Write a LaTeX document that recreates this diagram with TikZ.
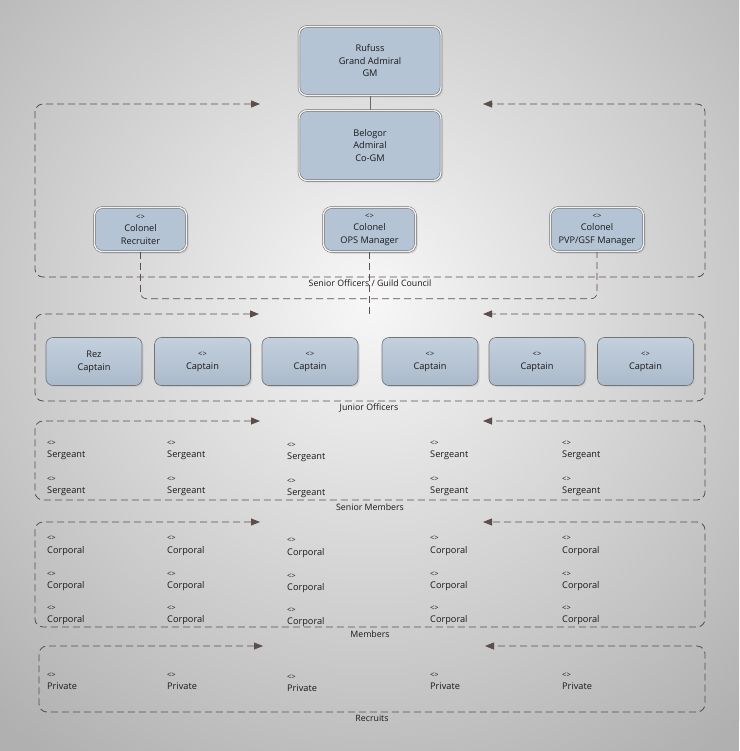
\documentclass[tikz,border=0pt]{standalone}
\usepackage{xcolor}
\usepackage{fontspec}
\setmainfont{Open Sans}
\usetikzlibrary{arrows.meta,shadows}
\definecolor{boxblue}{RGB}{180,196,213}
\definecolor{loopbrown}{RGB}{92,78,74}
\newcommand{\tagmark}{{\fontsize{7.5}{8}\selectfont <>}}

\begin{document}
\begin{tikzpicture}[x=1pt, y=-1pt,
    officer/.style={draw=black!60, double=black!6, double distance=1.4pt, line width=0.5pt,
      rounded corners=8pt, fill=boxblue, align=center, text=black!90,
      font=\fontsize{9.2}{12.5}\selectfont,
      drop shadow={shadow xshift=2pt, shadow yshift=-2pt, fill=black!30, opacity=0.5}},
    captain/.style={draw=black!55, line width=0.6pt, rounded corners=7pt,
      top color=boxblue!80!white, bottom color=boxblue!95!black,
      minimum width=96pt, minimum height=48pt, align=center, text=black!90,
      font=\fontsize{9.2}{13}\selectfont,
      drop shadow={shadow xshift=1.5pt, shadow yshift=-1.5pt, fill=black!25, opacity=0.5}},
    rank/.style={anchor=west, inner sep=0pt, align=left, text=black!90,
      font=\fontsize{9.2}{12.5}\selectfont},
    grouplabel/.style={inner sep=0pt, text=black!90, font=\fontsize{8.8}{10}\selectfont},
    grouploop/.style={loopbrown, line width=0.8pt, dash pattern=on 7pt off 4pt,
      rounded corners=8pt, >={Triangle[length=9pt, width=7pt]}, <->},
    bus/.style={loopbrown, line width=0.6pt, dash pattern=on 7pt off 4pt, rounded corners=6pt}]

  % Background
  \begin{scope}
    \clip (0,0) rectangle (739,751);
    \fill[black!31] (0,0) rectangle (739,751);
    \shade[inner color=white!97!black, outer color=black!31] (370,300) circle (560pt);
  \end{scope}
  \useasboundingbox (0,0) rectangle (739,751);

  % Group frames
  \draw[grouploop] (260,104) -- (35,104) -- (35,277) -- (705,277) -- (705,104) -- (483,104);
  \draw[grouploop] (259,314) -- (35,314) -- (35,401) -- (705,401) -- (705,314) -- (483,314);
  \draw[grouploop] (260,421) -- (35,421) -- (35,500) -- (705,500) -- (705,421) -- (483,421);
  \draw[grouploop] (260,522) -- (35,522) -- (35,627) -- (705,627) -- (705,522) -- (483,522);
  \draw[grouploop] (263,646) -- (39,646) -- (39,712) -- (705,712) -- (705,646) -- (485,646);

  % Group labels
  \node[grouplabel] (council-label) at (370,283) {Senior Officers / Guild Council};
  \node[grouplabel] (junior-label) at (369,408) {Junior Officers};
  \node[grouplabel] (senior-label) at (370,507) {Senior Members};
  \node[grouplabel] (members-label) at (370,634) {Members};
  \node[grouplabel] (recruits-label) at (372,718) {Recruits};

  % Guild masters
  \node[officer, minimum width=142pt, minimum height=69pt] (rufuss) at (370,61) {Rufuss\\Grand Admiral\\GM};
  \node[officer, minimum width=142pt, minimum height=70pt] (belogor) at (370,145.5) {Belogor\\Admiral\\Co-GM};
  \draw[black!60, line width=0.6pt] (rufuss) -- (belogor);

  % Colonels
  \node[officer, minimum width=92pt, minimum height=44pt] (recruiter) at (140.5,229.5) {\tagmark\\Colonel\\Recruiter};
  \node[officer, minimum width=92pt, minimum height=44pt] (ops) at (369.5,229.5) {\tagmark\\Colonel\\OPS Manager};
  \node[officer, minimum width=93pt, minimum height=44pt] (pvp) at (597,229.5) {\tagmark\\Colonel\\PVP/GSF Manager};
  \coordinate (juniortop) at (369.5,314);
  \draw[bus] (recruiter.south) -- ++(0,47) -| (pvp.south);
  \draw[bus] (ops.south) -- (juniortop);

  % Captains
  \node[captain] (captain-1) at (94,361.5) {Rez\\Captain};
  \foreach \i/\x in {2/202.5, 3/310, 4/430, 5/537, 6/645.5}
    \node[captain] (captain-\i) at (\x,361.5) {\tagmark\\Captain};

  % Sergeants, corporals, privates
  \foreach \i/\x/\dy in {1/47/0, 2/167/0, 3/287/2, 4/430/0, 5/562/0} {
    \foreach \j/\y in {1/450.5, 2/486.5}
      \node[rank] (sergeant-\i-\j) at (\x,\y+\dy) {\tagmark\\Sergeant};
    \foreach \j/\y in {1/546, 2/581.5, 3/615.5}
      \node[rank] (corporal-\i-\j) at (\x,\y+\dy) {\tagmark\\Corporal};
    \node[rank] (private-\i) at (\x,681.5+\dy) {\tagmark\\Private};
  }
\end{tikzpicture}
\end{document}
